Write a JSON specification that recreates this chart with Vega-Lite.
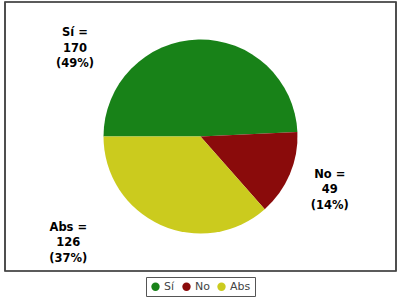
{
  "$schema": "https://vega.github.io/schema/vega-lite/v6.json",
  "width": 391,
  "height": 269,
  "autosize": {"type": "none"},
  "padding": {"left": 5, "top": 2, "right": 4, "bottom": 29},
  "background": "white",
  "config": {
    "view": {"stroke": null},
    "legend": {"layout": {"bottom": {"anchor": "middle"}}}
  },
  "data": {"values": [
    {"opcion": "Sí", "votos": 170},
    {"opcion": "No", "votos": 49},
    {"opcion": "Abs", "votos": 126}
  ]},
  "transform": [
    {"joinaggregate": [{"op": "sum", "field": "votos", "as": "total"}]},
    {"calculate": "[datum.opcion + ' =', '' + datum.votos, '(' + format(datum.votos / datum.total, '.0%') + ')']", "as": "etiqueta"}
  ],
  "layer": [
    {
      "mark": {"type": "rect", "fill": null, "stroke": "#444444", "strokeWidth": 1.2},
      "encoding": {}
    },
    {
      "mark": {"type": "arc", "outerRadius": 97},
      "encoding": {
        "theta": {"field": "votos", "type": "quantitative", "stack": true, "scale": {"range": [-1.5708, 4.7124]}},
        "order": {"field": "opcion", "sort": "descending"},
        "color": {
          "field": "opcion", "type": "nominal",
          "scale": {"domain": ["Sí", "No", "Abs"], "range": ["#188218", "#8a0b0b", "#cbcb1e"]},
          "legend": {
            "title": null, "orient": "bottom", "direction": "horizontal", "offset": 6,
            "strokeColor": "#555555", "padding": 4, "symbolType": "circle", "symbolSize": 70,
            "labelFontSize": 11, "labelFont": "DejaVu Sans", "labelColor": "#444444",
            "columnPadding": 6, "labelOffset": 3
          }
        }
      }
    },
    {
      "mark": {"type": "text", "radius": 110, "dx": -123, "dy": 6.5, "font": "DejaVu Sans", "fontWeight": "bold", "fontSize": 11.5, "lineHeight": 15.5, "align": "center", "baseline": "middle", "color": "#000000"},
      "encoding": {
        "theta": {"field": "votos", "type": "quantitative", "stack": true},
        "order": {"field": "opcion", "sort": "descending"},
        "text": {"condition": {"test": "datum.opcion === 'Sí'", "field": "etiqueta"}, "value": ""}
      }
    },
    {
      "mark": {"type": "text", "radius": 110, "dx": 28, "dy": -4.5, "font": "DejaVu Sans", "fontWeight": "bold", "fontSize": 11.5, "lineHeight": 15.5, "align": "center", "baseline": "middle", "color": "#000000"},
      "encoding": {
        "theta": {"field": "votos", "type": "quantitative", "stack": true},
        "order": {"field": "opcion", "sort": "descending"},
        "text": {"condition": {"test": "datum.opcion === 'No'", "field": "etiqueta"}, "value": ""}
      }
    },
    {
      "mark": {"type": "text", "radius": 110, "dx": -87, "dy": -9, "font": "DejaVu Sans", "fontWeight": "bold", "fontSize": 11.5, "lineHeight": 15.5, "align": "center", "baseline": "middle", "color": "#000000"},
      "encoding": {
        "theta": {"field": "votos", "type": "quantitative", "stack": true},
        "order": {"field": "opcion", "sort": "descending"},
        "text": {"condition": {"test": "datum.opcion === 'Abs'", "field": "etiqueta"}, "value": ""}
      }
    }
  ]
}
